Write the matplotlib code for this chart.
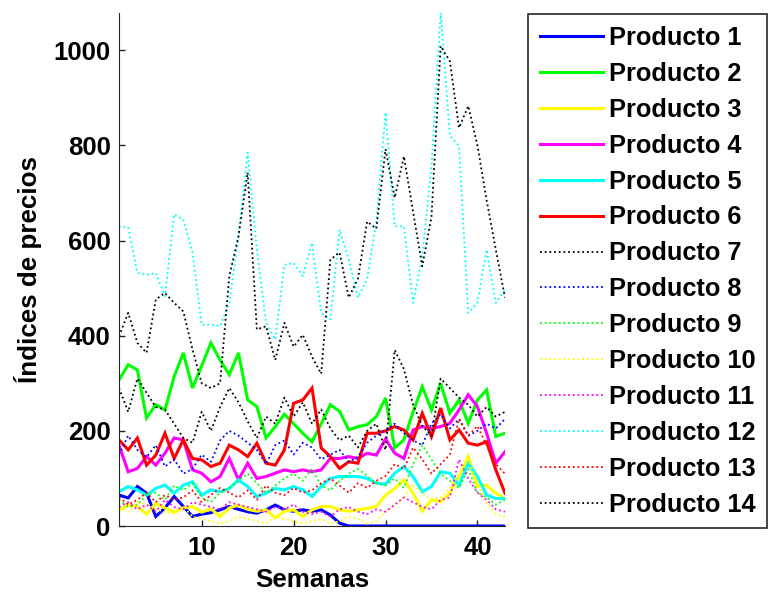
import matplotlib
matplotlib.use("Agg")
import matplotlib.pyplot as plt
import numpy as np

plt.rcParams['font.family'] = ['Liberation Sans', 'DejaVu Sans']
plt.rcParams['font.weight'] = 'bold'

weeks = np.arange(1, 44)

# Solid-line products
producto1 = [65, 59, 83, 69, 20, 38, 62, 41, 20, 25, 28, 34, 41, 35, 30, 27,
             34, 44, 34, 31, 34, 31, 34, 23, 6, 0, 0, 0, 0, 0, 0, 0, 0, 0, 0,
             0, 0, 0, 0, 0, 0, 0, 0]
producto2 = [307, 339, 328, 227, 255, 244, 314, 364, 290, 337, 385, 349, 318,
             364, 265, 251, 185, 209, 235, 215, 195, 177, 215, 255, 241, 202,
             209, 213, 230, 269, 164, 181, 240, 293, 244, 300, 237, 265, 216,
             265, 286, 188, 195]
producto3 = [34, 44, 41, 25, 47, 38, 29, 38, 41, 29, 36, 20, 38, 44, 35, 31,
             34, 17, 31, 34, 20, 34, 41, 41, 34, 31, 34, 37, 41, 65, 79, 97,
             69, 31, 55, 51, 69, 104, 146, 83, 86, 69, 58]
producto4 = [170, 114, 121, 146, 128, 153, 185, 181, 118, 111, 93, 104, 142,
             97, 132, 100, 104, 111, 118, 114, 118, 114, 118, 142, 142, 146,
             142, 153, 149, 183, 153, 142, 202, 209, 205, 209, 216, 244, 276,
             251, 195, 132, 156]
producto5 = [72, 83, 76, 65, 79, 86, 69, 86, 93, 65, 76, 72, 79, 97, 83, 62,
             69, 79, 76, 83, 76, 62, 83, 100, 104, 104, 104, 100, 90, 88, 111,
             125, 104, 72, 83, 114, 111, 86, 132, 104, 65, 58, 58]
producto6 = [181, 160, 185, 128, 149, 195, 142, 181, 142, 139, 125, 132, 170,
             160, 146, 174, 132, 128, 160, 258, 265, 290, 164, 146, 121, 135,
             132, 195, 195, 200, 209, 202, 181, 237, 188, 248, 181, 202, 174,
             170, 177, 118, 69]

# Dotted-line products
producto7 = [290, 240, 310, 280, 250, 245, 215, 185, 175, 240, 200, 250, 290,
             260, 220, 185, 230, 215, 270, 230, 260, 215, 245, 205, 180, 190,
             165, 200, 215, 160, 370, 330, 255, 210, 190, 310, 290, 270, 255,
             230, 250, 230, 240]
producto8 = [150, 190, 160, 145, 170, 125, 140, 110, 120, 150, 135, 180, 200,
             190, 175, 160, 130, 170, 180, 150, 175, 165, 140, 150, 160, 135,
             145, 175, 190, 200, 215, 195, 180, 170, 215, 235, 205, 225, 190,
             200, 215, 205, 225]
producto9 = [55, 40, 45, 65, 70, 55, 85, 75, 90, 60, 50, 70, 80, 95, 110, 90,
             70, 85, 100, 110, 95, 120, 85, 75, 95, 110, 120, 105, 90, 85, 100,
             80, 130, 170, 140, 110, 95, 80, 120, 70, 60, 45, 55]
producto10 = [40, 30, 50, 45, 35, 30, 25, 40, 20, 15, 10, 5, 10, 20, 15, 10, 5,
              20, 15, 10, 5, 10, 15, 5, 10, 20, 15, 5, 10, 30, 45, 60, 85, 70,
              55, 60, 80, 110, 140, 90, 50, 25, 20]
producto11 = [40, 50, 35, 45, 30, 55, 40, 35, 50, 45, 40, 35, 50, 45, 40, 35,
              30, 40, 35, 45, 30, 25, 30, 20, 35, 40, 30, 25, 35, 30, 45, 60,
              50, 40, 35, 55, 60, 140, 100, 70, 55, 35, 30]
producto12 = [630, 628, 532, 528, 532, 483, 655, 644, 574, 423, 423, 420, 469,
              609, 785, 581, 427, 392, 549, 553, 525, 595, 448, 434, 623, 560,
              480, 520, 640, 869, 630, 630, 469, 567, 756, 1079, 820, 799, 448,
              469, 581, 469, 497]
producto13 = [60, 45, 55, 70, 50, 65, 55, 60, 75, 50, 65, 80, 70, 60, 75, 55,
              85, 70, 65, 80, 70, 75, 90, 100, 85, 70, 90, 80, 95, 105, 130,
              120, 165, 140, 110, 130, 150, 225, 190, 210, 170, 130, 110]
producto14 = [399, 448, 385, 364, 476, 490, 469, 451, 371, 300, 290, 300, 525,
              609, 743, 413, 420, 349, 427, 377, 402, 356, 320, 560, 575, 480,
              520, 640, 625, 792, 690, 777, 660, 546, 650, 1009, 977, 837, 883,
              800, 685, 581, 480]

series = [producto1, producto2, producto3, producto4, producto5, producto6,
          producto7, producto8, producto9, producto10, producto11, producto12,
          producto13, producto14]
labels = ['Producto %d' % (i + 1) for i in range(len(series))]
colors = ['#0000ff', '#00ff00', '#ffff00', '#ff00ff', '#00ffff', '#ff0000',
          '#000000', '#0000ff', '#00ff00', '#ffff00', '#ff00ff', '#00ffff',
          '#ff0000', '#000000']

W, H = 771, 593
fig = plt.figure(figsize=(W / 100, H / 100), dpi=100)
ax = fig.add_axes([119 / W, 1 - 526 / H, (505 - 119) / W, (526 - 12.7) / H])

for i, (vals, lab, col) in enumerate(zip(series, labels, colors)):
    if i < 6:
        ax.plot(weeks, vals, color=col, lw=2.2, label=lab, solid_joinstyle='miter')
    else:
        ax.plot(weeks, vals, color=col, lw=1.3, linestyle=(0, (1, 1.6)), label=lab)

allvals = np.concatenate([np.asarray(s, dtype=float) for s in series])
ax.set_xlim(weeks.min(), weeks.max())
ax.set_ylim(allvals.min(), allvals.max())
ax.set_xticks([10, 20, 30, 40])
ax.set_yticks([0, 200, 400, 600, 800, 1000])
ax.tick_params(direction='in', length=4, width=1, labelsize=18.5, colors='#262626',
               labelcolor='black')
ax.tick_params(axis='x', pad=7)
ax.tick_params(axis='y', pad=6)
for lbl in ax.get_xticklabels() + ax.get_yticklabels():
    lbl.set_fontweight('bold')
ax.spines['top'].set_visible(False)
ax.spines['right'].set_visible(False)
ax.spines['left'].set_color('#262626')
ax.spines['bottom'].set_color('#262626')
ax.set_xlabel('Semanas', fontsize=18.7, fontweight='bold', labelpad=6)
ax.set_ylabel('Índices de precios', fontsize=18.7, fontweight='bold', labelpad=8)

lx0, ly1, lx1, ly0 = 528.3 / W, 1 - 14.3 / H, 767 / W, 1 - 527 / H
leg = ax.legend(loc='upper left', bbox_to_anchor=(lx0, ly0, lx1 - lx0, ly1 - ly0),
                bbox_transform=fig.transFigure, borderaxespad=0, mode='expand',
                prop={'size': 18.3, 'weight': 'bold'}, handlelength=2.5,
                handletextpad=0.22, labelspacing=0.47, borderpad=0.45,
                fancybox=False, framealpha=1, edgecolor='#262626')
leg.get_frame().set_linewidth(1.2)

fig.savefig('out.png', dpi=100, facecolor='white')
